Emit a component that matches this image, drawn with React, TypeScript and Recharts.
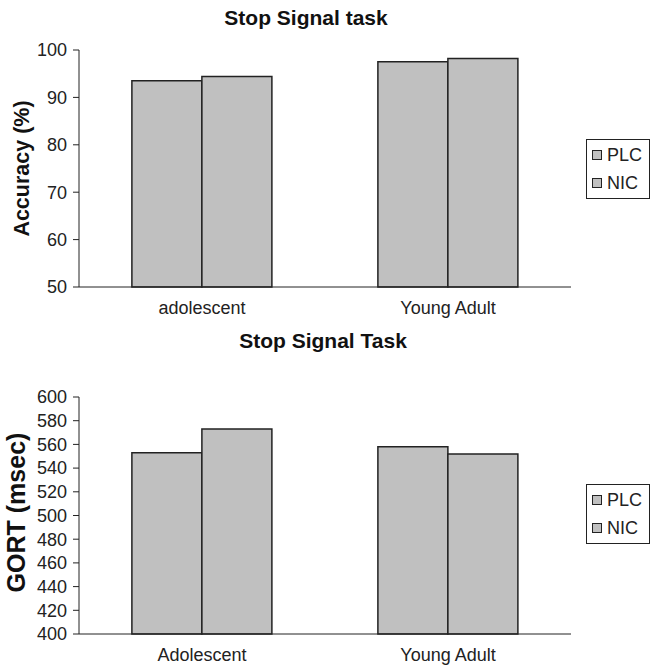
import React from "react";
import { Bar, BarChart, Label, Legend, XAxis, YAxis } from "recharts";

const accuracyGroups = ["adolescent", "Young Adult"];
const accuracyPLC = [93.5, 97.5];
const accuracyNIC = [94.4, 98.2];
const accuracyTicks = [50, 60, 70, 80, 90, 100];

const gortGroups = ["Adolescent", "Young Adult"];
const gortPLC = [553, 558];
const gortNIC = [573, 552];
const gortTicks = [400, 420, 440, 460, 480, 500, 520, 540, 560, 580, 600];

const seriesOrder = ["PLC", "NIC"];
const edgeTicks = [0, 1, 2];

const FONT = '"Liberation Sans", Arial, sans-serif';
const INK = "#222";

const accuracyData = accuracyGroups.map((name, i) => ({
  name,
  PLC: accuracyPLC[i],
  NIC: accuracyNIC[i],
}));

const gortData = gortGroups.map((name, i) => ({
  name,
  PLC: gortPLC[i],
  NIC: gortNIC[i],
}));

function LegendBox({ payload }: any) {
  const items = [...(payload || [])].sort(
    (a: any, b: any) => seriesOrder.indexOf(a.value) - seriesOrder.indexOf(b.value)
  );
  return (
    <div
      style={{
        border: `1px solid ${INK}`,
        background: "#fff",
        padding: "1px 5px",
        fontFamily: FONT,
        fontSize: 18,
        lineHeight: "28px",
        color: INK,
      }}
    >
      {items.map((p: any) => (
        <div key={p.value} style={{ display: "flex", alignItems: "center" }}>
          <span
            style={{
              display: "inline-block",
              width: 8,
              height: 8,
              background: p.color,
              border: `1px solid ${INK}`,
              marginRight: 5,
            }}
          />
          {p.value}
        </div>
      ))}
    </div>
  );
}

function yTitle(text: string, size: number, baseX: number, shift: number) {
  return ({ viewBox }: any) => {
    const x = viewBox.x + baseX;
    const y = viewBox.y + viewBox.height / 2 + shift;
    return (
      <text
        x={x}
        y={y}
        transform={`rotate(-90, ${x}, ${y})`}
        textAnchor="middle"
        fontFamily={FONT}
        fontWeight="bold"
        fontSize={size}
        fill="#111"
      >
        {text}
      </text>
    );
  };
}

interface PanelProps {
  data: any[];
  ticks: number[];
  yLabel: string;
  labelSize: number;
  labelX: number;
  labelShift: number;
  top: number;
  height: number;
  legendTop: number;
}

function Panel({
  data,
  ticks,
  yLabel,
  labelSize,
  labelX,
  labelShift,
  top,
  height,
  legendTop,
}: PanelProps) {
  const tickStyle = { fontFamily: FONT, fontSize: 18, fill: INK };
  return (
    <BarChart
      width={659}
      height={height}
      data={data}
      margin={{ top, right: 88, bottom: 0, left: 0 }}
      barCategoryGap="21.5%"
      barGap={0}
    >
      {/* boundary ticks between the categories */}
      <XAxis
        xAxisId="edge"
        type="number"
        domain={[0, 2]}
        allowDataOverflow
        ticks={edgeTicks}
        height={0}
        axisLine={false}
        tick={false}
        tickSize={6}
        tickLine={{ stroke: INK }}
      />
      <XAxis
        xAxisId="cat"
        dataKey="name"
        height={height - top - 237}
        axisLine={{ stroke: INK }}
        tickLine={false}
        tickSize={6}
        tickMargin={8}
        tick={tickStyle}
      />
      <YAxis
        width={79}
        domain={[ticks[0], ticks[ticks.length - 1]]}
        ticks={ticks}
        interval={0}
        axisLine={{ stroke: INK }}
        tickLine={{ stroke: INK }}
        tickSize={6}
        tickMargin={6}
        tick={tickStyle}
      >
        <Label content={yTitle(yLabel, labelSize, labelX, labelShift)} />
      </YAxis>
      <Legend
        layout="vertical"
        align="center"
        verticalAlign="middle"
        wrapperStyle={{ left: 586, top: legendTop, width: 64 }}
        content={<LegendBox />}
      />
      <Bar
        xAxisId="cat"
        dataKey="PLC"
        name="PLC"
        fill="#c0c0c0"
        stroke={INK}
        strokeWidth={1.5}
        isAnimationActive={false}
      />
      <Bar
        xAxisId="cat"
        dataKey="NIC"
        name="NIC"
        fill="#c0c0c0"
        stroke={INK}
        strokeWidth={1.5}
        isAnimationActive={false}
      />
    </BarChart>
  );
}

export default function App() {
  const titleStyle: React.CSSProperties = {
    position: "absolute",
    left: 0,
    textAlign: "center",
    fontFamily: FONT,
    fontWeight: "bold",
    fontSize: 21,
    lineHeight: "21px",
    color: "#111",
  };
  return (
    <div
      style={{
        position: "absolute",
        left: 0,
        top: 0,
        width: 659,
        height: 666,
        background: "#fff",
      }}
    >
      <div style={{ position: "absolute", left: 0, top: 0 }}>
        <Panel
          data={accuracyData}
          ticks={accuracyTicks}
          yLabel="Accuracy (%)"
          labelSize={21.5}
          labelX={29}
          labelShift={0}
          top={50}
          height={320}
          legendTop={139}
        />
      </div>
      <div style={{ position: "absolute", left: 0, top: 320 }}>
        <Panel
          data={gortData}
          ticks={gortTicks}
          yLabel="GORT (msec)"
          labelSize={25}
          labelX={25}
          labelShift={-3}
          top={77}
          height={346}
          legendTop={164}
        />
      </div>
      <div style={{ ...titleStyle, top: 7, width: 612 }}>Stop Signal task</div>
      <div style={{ ...titleStyle, top: 330, width: 646 }}>Stop Signal Task</div>
    </div>
  );
}
